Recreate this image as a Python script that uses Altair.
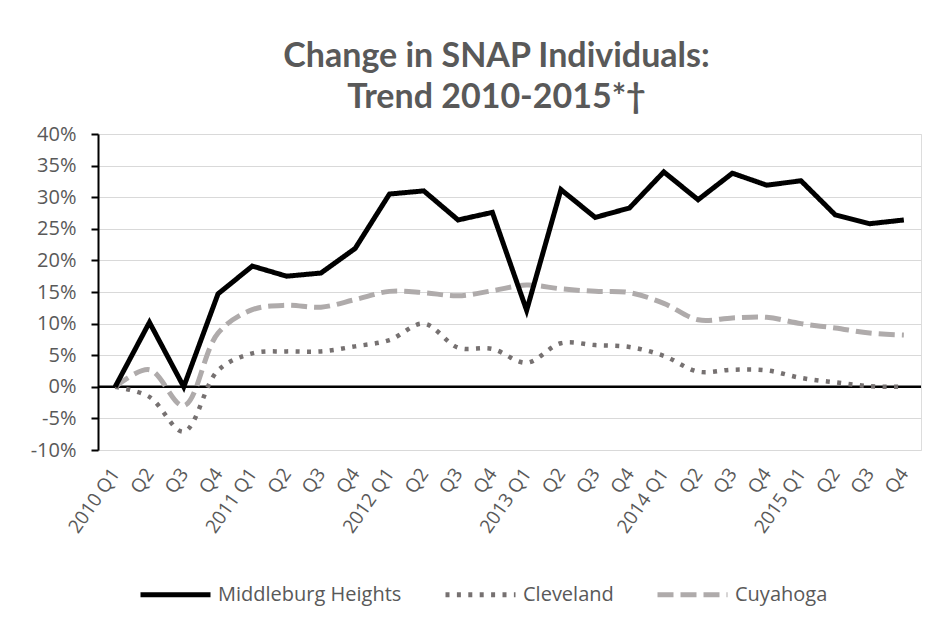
import altair as alt
import pandas as pd

quarters = [
    "2010 Q1", "2010 Q2", "2010 Q3", "2010 Q4",
    "2011 Q1", "2011 Q2", "2011 Q3", "2011 Q4",
    "2012 Q1", "2012 Q2", "2012 Q3", "2012 Q4",
    "2013 Q1", "2013 Q2", "2013 Q3", "2013 Q4",
    "2014 Q1", "2014 Q2", "2014 Q3", "2014 Q4",
    "2015 Q1", "2015 Q2", "2015 Q3", "2015 Q4",
]

middleburg = [0.0, 10.2, 0.0, 14.7, 19.1, 17.5, 18.0, 21.9,
              30.5, 31.0, 26.4, 27.6, 12.1, 31.2, 26.8, 28.3,
              34.0, 29.6, 33.8, 31.9, 32.6, 27.2, 25.8, 26.4]
cleveland = [0.0, -1.6, -7.1, 2.6, 5.3, 5.6, 5.6, 6.4,
             7.4, 10.0, 6.2, 6.0, 3.8, 6.9, 6.6, 6.3,
             4.9, 2.4, 2.7, 2.6, 1.4, 0.7, 0.1, 0.0]
cuyahoga = [0.0, 2.7, -3.0, 8.5, 12.2, 12.9, 12.6, 13.8,
            15.1, 14.9, 14.4, 15.2, 16.1, 15.5, 15.1, 14.9,
            13.2, 10.6, 10.9, 11.0, 10.0, 9.3, 8.5, 8.2]

series_names = ["Middleburg Heights", "Cleveland", "Cuyahoga"]
series_colors = ["#000000", "#767171", "#AFABAB"]
series_dashes = [[1, 0], [4, 7.4], [16, 7]]
y_ticks = [-10, -5, 0, 5, 10, 15, 20, 25, 30, 35, 40]
zero_line = [0]

rows = []
for name, vals in zip(series_names, [middleburg, cleveland, cuyahoga]):
    for q, v in zip(quarters, vals):
        rows.append({"quarter": q, "value": v, "series": name})
df = pd.DataFrame(rows)

FONT = "Open Sans"
TFONT = "Lato"
TXT = "#595959"

x_enc = alt.X(
    "quarter:N",
    sort=quarters,
    scale=alt.Scale(type="point", padding=0.5),
    axis=alt.Axis(
        title=None,
        domain=False,
        ticks=False,
        labelAngle=-55,
        labelAlign="right",
        labelBaseline="middle",
        labelPadding=20,
        labelFontSize=19,
        labelColor=TXT,
        labelFont=FONT,
        labelOverlap=False,
        labelExpr="indexof(datum.value, 'Q1') >= 0 ? datum.value : substring(datum.value, 5)",
        grid=False,
    ),
)
y_axis = alt.Axis(
    title=None,
    values=y_ticks,
    labelExpr="datum.value + '%'",
    labelFontSize=20,
    labelColor=TXT,
    labelFont=FONT,
    labelPadding=15,
    labelOverlap=False,
    domainColor="#000000",
    domainWidth=2,
    tickColor="#000000",
    tickWidth=2,
    tickSize=7,
    gridColor="#D9D9D9",
    gridWidth=1,
)
y_scale = alt.Scale(domain=[-10, 40], nice=False, zero=False)
y_enc = alt.Y("value:Q", scale=y_scale, axis=y_axis)

legend_kw = dict(
    title=None,
    orient="none",
    direction="horizontal",
    legendX=40,
    legendY=423,
    symbolType="stroke",
    symbolSize=4900,
    symbolStrokeWidth=5,
    labelFontSize=20,
    labelFont=FONT,
    labelColor=TXT,
    labelOffset=5,
    columnPadding=33,
    labelLimit=400,
)
color_enc = alt.Color(
    "series:N",
    scale=alt.Scale(domain=series_names, range=series_colors),
    legend=alt.Legend(**legend_kw),
)
dash_enc = alt.StrokeDash(
    "series:N",
    scale=alt.Scale(domain=series_names, range=series_dashes),
    legend=alt.Legend(**legend_kw),
)

base = alt.Chart(df)

zero = alt.Chart(pd.DataFrame({"value": zero_line})).mark_rule(
    color="#000000", strokeWidth=2.5
).encode(y=y_enc)

def series_layer(name, width, interp):
    return base.transform_filter(alt.datum.series == name).mark_line(
        strokeWidth=width, interpolate=interp
    ).encode(x=x_enc, y=y_enc, color=color_enc, strokeDash=dash_enc)

chart = alt.layer(
    zero,
    series_layer("Cuyahoga", 5, "catmull-rom"),
    series_layer("Cleveland", 4.5, "catmull-rom"),
    series_layer("Middleburg Heights", 5, "linear"),
).properties(
    width=823,
    height=316,
    title=alt.TitleParams(
        text=["Change in SNAP Individuals:", "Trend 2010-2015*\u2020"],
        font=TFONT,
        fontSize=34,
        fontWeight="bold",
        color=TXT,
        anchor="middle",
        dx=-13,
        offset=9,
        lineHeight=41,
    ),
    autosize=alt.AutoSizeParams(type="none"),
    padding={"left": 90, "top": 126, "right": 20, "bottom": 165},
).configure_view(stroke=None).configure(background="#FFFFFF")

chart.save("out.html", embed_options={"renderer": "svg", "actions": False})
